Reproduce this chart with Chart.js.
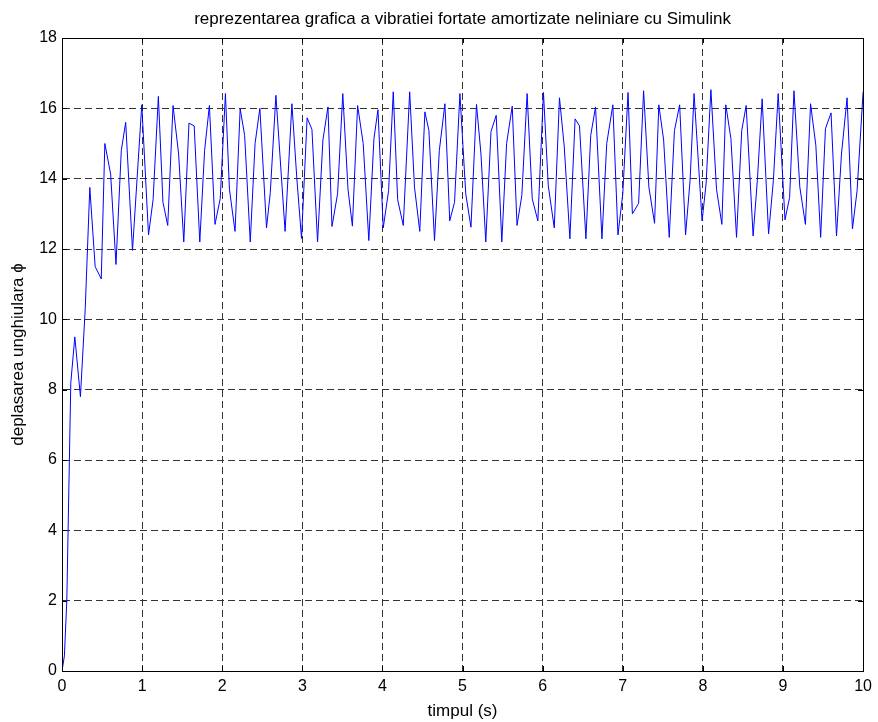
<!DOCTYPE html>
<html>
<head>
<meta charset="utf-8">
<script src="https://cdn.jsdelivr.net/npm/chart.js@4.4.0/dist/chart.umd.min.js"></script>
<style>
  html, body { margin: 0; padding: 0; background: #fff; }
  #wrap { width: 878px; height: 722px; }
</style>
</head>
<body>
<div id="wrap"><canvas id="vibChart" width="878" height="722"></canvas></div>
<script>
// timpul (s)
const timeValues = [
  0, 0.03, 0.06, 0.11, 0.16, 0.23, 0.29, 0.347, 0.414, 0.49,
  0.535, 0.607, 0.674, 0.74, 0.795, 0.88, 0.996, 1.08, 1.137, 1.203,
  1.26, 1.32, 1.386, 1.456, 1.52, 1.585, 1.65, 1.72, 1.78, 1.84,
  1.91, 1.975, 2.04, 2.09, 2.16, 2.224, 2.28, 2.35, 2.41, 2.47,
  2.553, 2.6, 2.67, 2.785, 2.87, 2.93, 2.99, 3.06, 3.12, 3.19,
  3.257, 3.32, 3.37, 3.44, 3.505, 3.57, 3.625, 3.69, 3.76, 3.83,
  3.894, 3.944, 4.01, 4.077, 4.135, 4.19, 4.26, 4.34, 4.4, 4.466,
  4.53, 4.58, 4.65, 4.71, 4.78, 4.84, 4.9, 4.967, 5.04, 5.105,
  5.174, 5.23, 5.29, 5.355, 5.42, 5.49, 5.55, 5.62, 5.68, 5.74,
  5.806, 5.87, 5.94, 6.01, 6.07, 6.145, 6.21, 6.27, 6.34, 6.405,
  6.46, 6.54, 6.6, 6.66, 6.74, 6.8, 6.876, 6.94, 7.0, 7.066,
  7.12, 7.198, 7.26, 7.326, 7.397, 7.45, 7.51, 7.58, 7.645, 7.71,
  7.784, 7.84, 7.89, 7.99, 8.04, 8.1, 8.17, 8.237, 8.286, 8.35,
  8.42, 8.485, 8.54, 8.627, 8.68, 8.74, 8.82, 8.88, 8.94, 9.025,
  9.083, 9.137, 9.21, 9.28, 9.344, 9.41, 9.47, 9.53, 9.6, 9.668,
  9.73, 9.8, 9.867, 9.925, 10.0
];

// deplasarea unghiulara
const phiValues = [
  0, 0.43, 2.0, 8.2, 9.5, 7.8, 10.3, 13.75, 11.5, 11.15,
  15.0, 14.13, 11.56, 14.8, 15.6, 11.96, 16.1, 12.4, 13.4, 16.34,
  13.33, 12.67, 16.08, 14.7, 12.2, 15.58, 15.5, 12.2, 14.8, 16.08,
  12.7, 13.43, 16.42, 13.7, 12.5, 15.99, 15.23, 12.2, 15.0, 16.0,
  12.6, 13.6, 16.37, 12.5, 16.13, 14.05, 12.3, 15.73, 15.4, 12.2,
  15.1, 16.04, 12.64, 13.57, 16.42, 13.7, 12.65, 16.08, 15.0, 12.24,
  15.14, 15.96, 12.6, 13.66, 16.47, 13.4, 12.67, 16.47, 13.76, 12.5,
  15.9, 15.37, 12.24, 14.8, 16.13, 12.8, 13.33, 16.42, 13.57, 12.62,
  16.11, 14.7, 12.2, 15.34, 15.8, 12.2, 15.0, 16.06, 12.67, 13.52,
  16.42, 13.43, 12.8, 16.45, 13.8, 12.6, 16.3, 14.9, 12.29, 15.7,
  15.5, 12.29, 15.23, 16.04, 12.29, 15.0, 16.1, 12.4, 13.57, 16.45,
  13.0, 13.3, 16.5, 13.76, 12.73, 16.1, 15.1, 12.33, 15.37, 16.1,
  12.4, 13.95, 16.42, 12.8, 13.85, 16.53, 13.7, 12.7, 16.1, 15.14,
  12.33, 15.37, 16.08, 12.37, 13.95, 16.27, 12.43, 13.95, 16.42, 12.83,
  13.47, 16.5, 13.76, 12.7, 16.13, 14.95, 12.33, 15.42, 15.87, 12.37,
  14.7, 16.3, 12.57, 13.66, 16.47
];

const xTickValues = [0, 1, 2, 3, 4, 5, 6, 7, 8, 9, 10];
const yTickValues = [0, 2, 4, 6, 8, 10, 12, 14, 16, 18];

const fontFamily = '"Liberation Sans", Arial, Helvetica, sans-serif';

// box round the axes with the small inner ticks, like matlab
const axesBox = {
  id: 'axesBox',
  afterLayout(chart) {
    // matlab centres the title over the axes, not the figure
    const tb = chart.titleBlock;
    if (tb) {
      tb.left = chart.chartArea.left;
      tb.right = chart.chartArea.right;
      tb.width = tb.right - tb.left;
    }
  },
  afterDraw(chart) {
    const { ctx, chartArea: a, scales } = chart;
    const tick = 5;
    ctx.save();
    ctx.strokeStyle = '#000';
    ctx.lineWidth = 1;
    ctx.setLineDash([]);
    ctx.beginPath();
    scales.x.ticks.forEach(t => {
      const px = Math.round(scales.x.getPixelForValue(t.value)) + 0.5;
      ctx.moveTo(px, a.bottom); ctx.lineTo(px, a.bottom - tick);
      ctx.moveTo(px, a.top); ctx.lineTo(px, a.top + tick);
    });
    scales.y.ticks.forEach(t => {
      const py = Math.round(scales.y.getPixelForValue(t.value)) + 0.5;
      ctx.moveTo(a.left, py); ctx.lineTo(a.left + tick, py);
      ctx.moveTo(a.right, py); ctx.lineTo(a.right - tick, py);
    });
    ctx.stroke();
    ctx.strokeRect(Math.round(a.left) + 0.5, Math.round(a.top) + 0.5,
      Math.round(a.right - a.left), Math.round(a.bottom - a.top));
    ctx.restore();
  }
};

const ctx = document.getElementById('vibChart').getContext('2d');
new Chart(ctx, {
  type: 'line',
  data: {
    datasets: [{
      label: 'phi',
      data: timeValues.map((t, i) => ({ x: t, y: phiValues[i] })),
      borderColor: '#0000ff',
      borderWidth: 1,
      pointRadius: 0,
      fill: false,
      tension: 0
    }]
  },
  options: {
    responsive: false,
    devicePixelRatio: 1,
    animation: false,
    layout: { padding: { left: 0, right: 12, top: 0, bottom: 0 } },
    plugins: {
      legend: { display: false },
      tooltip: { enabled: false },
      title: {
        display: true,
        text: 'reprezentarea grafica a vibratiei fortate amortizate neliniare cu Simulink',
        color: '#000',
        font: { family: fontFamily, size: 17, weight: 'normal', lineHeight: 1.2 },
        padding: { top: 9.3, bottom: 8.3 }
      }
    },
    scales: {
      x: {
        type: 'linear',
        min: 0,
        max: 10,
        afterBuildTicks: s => { s.ticks = xTickValues.map(v => ({ value: v })); },
        afterFit: s => { s.height = 51; },
        grid: { color: '#333', lineWidth: 1, drawTicks: false },
        border: { display: true, color: '#000', width: 1, dash: [7, 4] },
        ticks: { color: '#000', padding: 6, font: { family: fontFamily, size: 16 } },
        title: {
          display: true,
          text: 'timpul (s)',
          color: '#000',
          font: { family: fontFamily, size: 17, lineHeight: 1.2 },
          padding: { top: 0, bottom: 0 }
        }
      },
      y: {
        type: 'linear',
        min: 0,
        max: 18,
        afterBuildTicks: s => { s.ticks = yTickValues.map(v => ({ value: v })); },
        afterFit: s => { s.width = 62; },
        grid: { color: '#333', lineWidth: 1, drawTicks: false },
        border: { display: true, color: '#000', width: 1, dash: [7, 4] },
        ticks: { color: '#000', padding: 5, font: { family: fontFamily, size: 16 } },
        title: {
          display: true,
          text: 'deplasarea unghiulara \u03d5',
          color: '#000',
          font: { family: fontFamily, size: 17, lineHeight: 1.2 },
          padding: { top: 8, bottom: 0 }
        }
      }
    }
  },
  plugins: [axesBox]
});
</script>
</body>
</html>
